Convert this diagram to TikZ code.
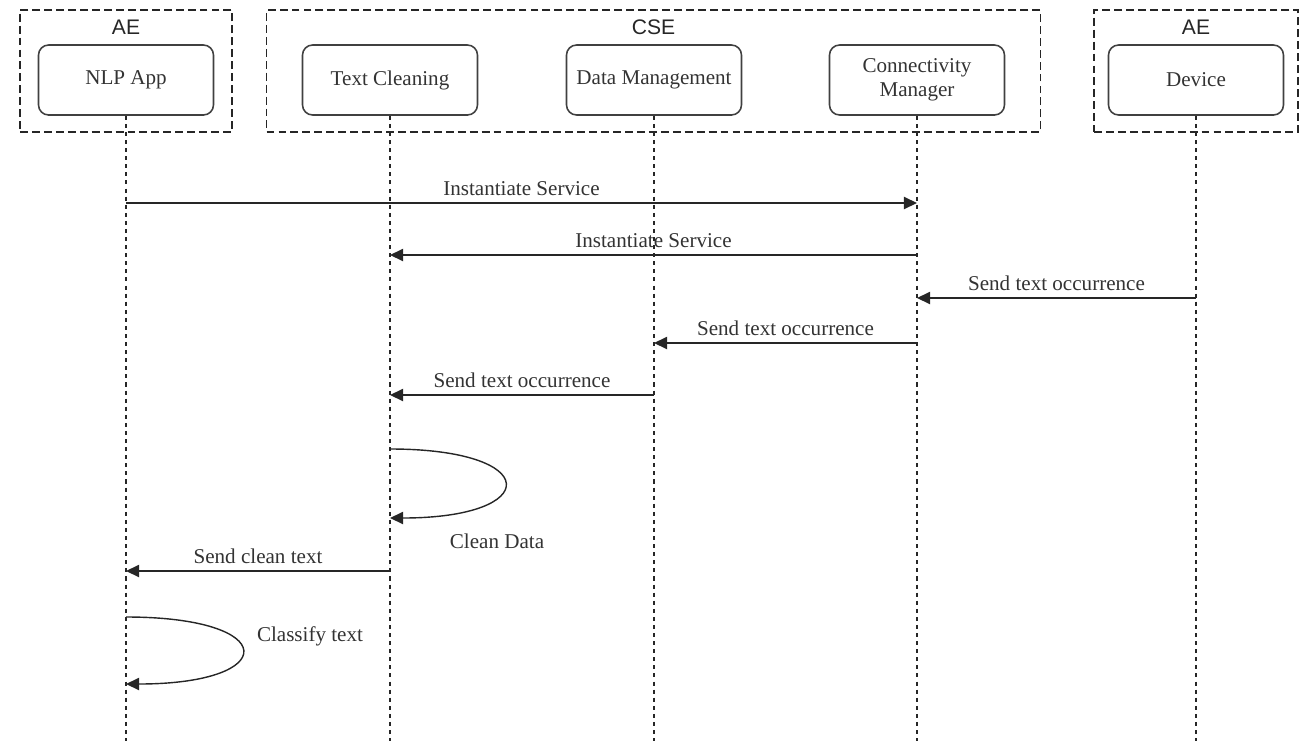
\documentclass[tikz,border=0pt]{standalone}
\usepackage{fontspec}
\setmainfont{Liberation Serif}
\newfontfamily\titlefont{Liberation Sans}
\usetikzlibrary{arrows.meta, positioning}

\tikzset{
  frame/.style={draw=black!85, dash pattern=on 4.5pt off 2.3pt, line width=0.8pt},
  title/.style={font=\titlefont\fontsize{12}{14}\selectfont, text=black!85},
  actor/.style={draw=black!75, rounded corners=0.2cm, line width=0.9pt, minimum width=3.5cm,
    minimum height=1.4cm, align=center, font=\fontsize{12}{13.6}\selectfont, text=black!80},
  lifeline/.style={black!85, dash pattern=on 2.3pt off 2.3pt, line width=0.7pt},
  msg/.style={black!85, line width=0.8pt, -{Triangle[length=7.5pt, width=7pt]}},
  lbl/.style={font=\fontsize{12}{14}\selectfont, text=black!80, inner sep=4pt}
}

\begin{document}
\begin{tikzpicture}[x=0.02cm, y=-0.02cm]
  \useasboundingbox (0,0) rectangle (1309,741);
  \node[frame, minimum width=4.24cm, minimum height=2.44cm] (aeleft) at (126,71) {};
  \node[frame, minimum width=15.48cm, minimum height=2.44cm] (cse) at (653.5,71) {};
  \node[frame, minimum width=4.08cm, minimum height=2.44cm] (aeright) at (1196,71) {};
  \node[title] (aelefttitle) at (126,27) {AE};
  \node[title] (csetitle) at (653.5,27) {CSE};
  \node[title] (aerighttitle) at (1196,27) {AE};

  \node[actor] (nlp) at (126,80) {NLP App};
  \node[actor] (tc) at (390,80) {Text Cleaning};
  \node[actor] (dm) at (654,80) {Data Management};
  \node[actor] (cm) at (917,80) {Connectivity\\Manager};
  \node[actor] (dev) at (1196,80) {Device};

  \coordinate (bottom) at (0,741);
  \foreach \n in {nlp,tc,dm,cm,dev}
    \draw[lifeline] (\n.south) -- (\n |- bottom);

  \coordinate (m1) at (0,203);
  \coordinate (m2) at (0,255);
  \coordinate (m3) at (0,298);
  \coordinate (m4) at (0,343);
  \coordinate (m5) at (0,395);
  \coordinate (m6a) at (0,449);
  \coordinate (m6b) at (0,518);
  \coordinate (m7) at (0,571);
  \coordinate (m8a) at (0,617);
  \coordinate (m8b) at (0,684);

  \draw[msg] (nlp |- m1) -- node[lbl, above] {Instantiate Service} (cm |- m1);
  \draw[msg] (cm |- m2) -- node[lbl, above] {Instantiate Service} (tc |- m2);
  \draw[msg] (dev |- m3) -- node[lbl, above] {Send text occurrence} (cm |- m3);
  \draw[msg] (cm |- m4) -- node[lbl, above] {Send text occurrence} (dm |- m4);
  \draw[msg] (dm |- m5) -- node[lbl, above] {Send text occurrence} (tc |- m5);
  \draw[msg] (tc |- m6a) .. controls +(153,0) and +(153,0) .. (tc |- m6b);
  \draw[msg] (tc |- m7) -- node[lbl, above] {Send clean text} (nlp |- m7);
  \draw[msg] (nlp |- m8a) .. controls +(155,0) and +(155,0) .. (nlp |- m8b);

  \node[lbl] (cleanlbl) at (497,541) {Clean Data};
  \node[lbl] (classifylbl) at (310,636) {Classify text};
\end{tikzpicture}
\end{document}
